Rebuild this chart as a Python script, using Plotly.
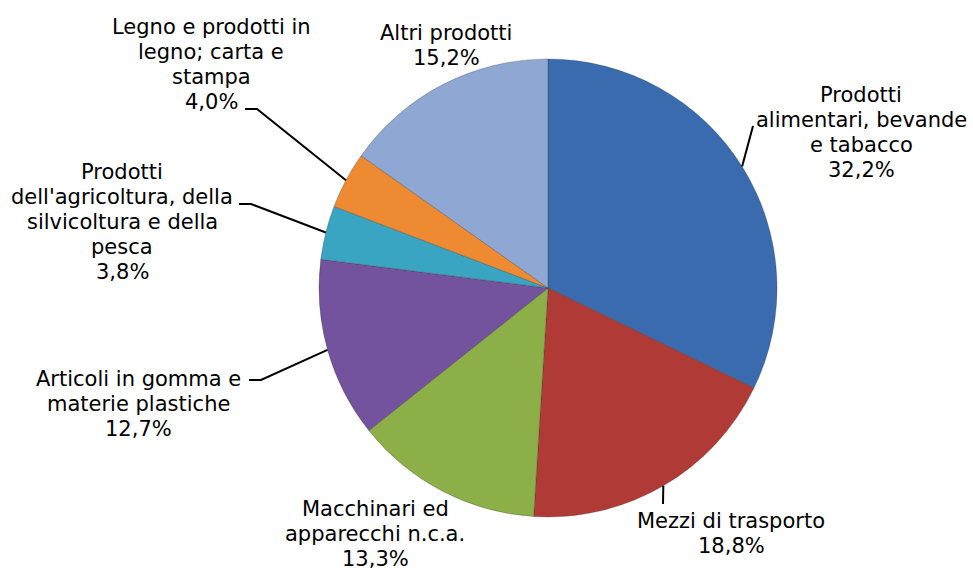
import math
import plotly.graph_objects as go

# ---- data ----
categories = [
    "Prodotti alimentari, bevande e tabacco",
    "Mezzi di trasporto",
    "Macchinari ed apparecchi n.c.a.",
    "Articoli in gomma e materie plastiche",
    "Prodotti dell'agricoltura, della silvicoltura e della pesca",
    "Legno e prodotti in legno; carta e stampa",
    "Altri prodotti",
]
values = [32.2, 18.8, 13.3, 12.7, 3.8, 4.0, 15.2]
label_lines = [
    ["Prodotti", "alimentari, bevande", "e tabacco"],
    ["Mezzi di trasporto"],
    ["Macchinari ed", "apparecchi n.c.a."],
    ["Articoli in gomma e", "materie plastiche"],
    ["Prodotti", "dell'agricoltura, della", "silvicoltura e della", "pesca"],
    ["Legno e prodotti in", "legno; carta e", "stampa"],
    ["Altri prodotti"],
]
colors = ["#3A6BAE", "#B03A36", "#8CAF47", "#73529E", "#3AA5C3", "#EE8A31", "#8EA7D3"]

# ---- layout constants (pixels) ----
W, H = 973, 574
CX, CY, R = 548, 288, 229
FONT = "DejaVu Sans"
FS = 21
LH = 25
# label block: (center x, y of first line)
label_pos = [(861, 95), (731, 521), (375, 509), (138, 379), (122, 172), (211, 27), (446, 33)]
# leader hooks: None or (x_text_end, x_hook_end, y)
hooks = [
    (753, 753, 126),
    (663, 663, 504),
    None,
    (249, 261, 380),
    (239, 251, 204),
    (245, 257, 109),
    None,
]


def px(x):
    return x / W


def py(y):
    return 1 - y / H


fig = go.Figure()
fig.add_trace(go.Pie(
    labels=categories,
    values=values,
    sort=False,
    direction="clockwise",
    rotation=0,
    textinfo="none",
    hoverinfo="label+percent",
    marker=dict(colors=colors, line=dict(color="rgba(40,40,40,0.35)", width=0.8)),
    domain=dict(x=[px(CX - R), px(CX + R)], y=[py(CY + R), py(CY - R)]),
    showlegend=False,
))

annotations = []
for lines, v, (lx, ly) in zip(label_lines, values, label_pos):
    all_lines = lines + [f"{v:.1f}%".replace(".", ",")]
    for i, t in enumerate(all_lines):
        annotations.append(dict(
            x=px(lx), y=py(ly + i * LH), xref="paper", yref="paper",
            text=t, showarrow=False, xanchor="center", yanchor="middle",
            borderpad=0,
            font=dict(family=FONT, size=FS, color="#000000"),
        ))

shapes = []
total = sum(values)
cum = 0.0
for v, hk in zip(values, hooks):
    mid = (cum + v / 2) / total * 2 * math.pi
    cum += v
    if hk is None:
        continue
    ex = CX + R * math.sin(mid)
    ey = CY - R * math.cos(mid)
    x0, x1, yh = hk
    path = f"M {px(x0)},{py(yh)} L {px(x1)},{py(yh)} L {px(ex)},{py(ey)}"
    shapes.append(dict(type="path", xref="paper", yref="paper", path=path,
                       line=dict(color="#000000", width=2)))

fig.update_layout(
    width=W, height=H,
    margin=dict(l=0, r=0, t=0, b=0),
    paper_bgcolor="white", plot_bgcolor="white",
    annotations=annotations,
    shapes=shapes,
)

fig.write_html(
    "out.html",
    config={"displayModeBar": False},
    post_script="document.body.style.margin='0';document.body.style.overflow='hidden';",
)
